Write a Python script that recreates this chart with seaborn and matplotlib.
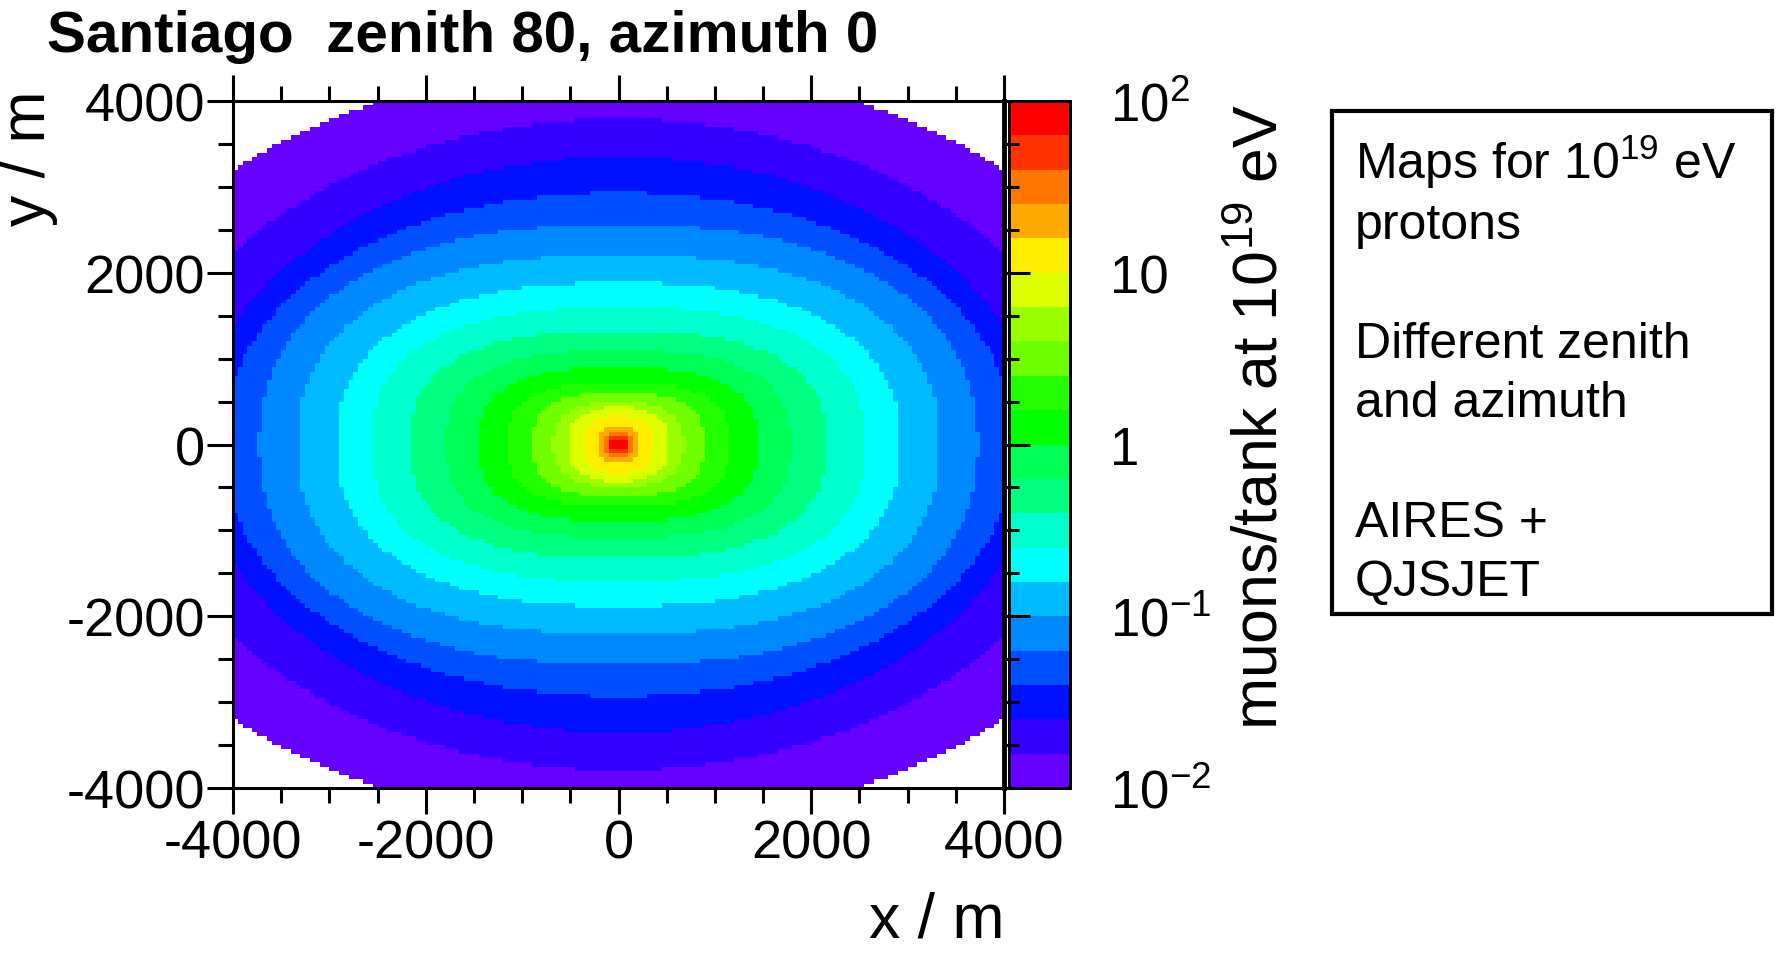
import numpy as np
import pandas as pd
import matplotlib
matplotlib.use("Agg")
import matplotlib.pyplot as plt
import seaborn as sns
from matplotlib.colors import ListedColormap, LogNorm
from matplotlib.patches import Rectangle
from matplotlib.ticker import FixedLocator, LogLocator, NullFormatter

# ---------------- data ----------------
# colour-palette contour levels (muons/tank), 5 per decade
contour_levels = [0.01, 0.0158, 0.0251, 0.0398, 0.0631, 0.1, 0.158, 0.251, 0.398, 0.631,
                  1.0, 1.58, 2.51, 3.98, 6.31, 10.0, 15.8, 25.1, 39.8, 63.1, 100.0]
band_colors = ["#6600FF", "#3300FF", "#0011FF", "#0050FF", "#0088FF",
               "#00BBFF", "#00FFFF", "#00FFCC", "#00FF80", "#00FF55",
               "#00FF00", "#22FF00", "#6FFF00", "#99FF00", "#DDFF00",
               "#FFEE00", "#FFAA00", "#FF7700", "#FF3300", "#FF0000"]
# half-width along x and half-height along y (m) of each contour
contour_half_x = [5800, 4940, 4380, 4100, 3727, 3320, 2922, 2560, 2153, 1781,
                  1445, 1150, 899, 683, 525, 370, 225, 160, 120, 80]
contour_half_y = [4420, 3792, 3350, 2930, 2565, 2207, 1883, 1597, 1320, 1090,
                  890, 720, 600, 500, 430, 330, 200, 140, 105, 70]
contour_squareness = [2.0, 2.0, 2.0, 2.1, 2.3, 2.4, 2.4, 2.5, 2.6, 2.7,
                      2.8, 2.8, 2.7, 2.5, 2.5, 2.5, 2.5, 2.5, 2.5, 2.5]
major_ticks = [-4000, -2000, 0, 2000, 4000]
major_labels = ["-4000", "-2000", "0", "2000", "4000"]
minor_ticks = [-3500, -3000, -2500, -1500, -1000, -500, 500, 1000, 1500, 2500, 3000, 3500]
cbar_ticks = [0.01, 0.1, 1, 10, 100]
cbar_labels = [r"$\mathregular{10^{-2}}$", r"$\mathregular{10^{-1}}$", "1", "10",
               r"$\mathregular{10^{2}}$"]
title = "Santiago  zenith 80, azimuth 0"
note_lines = ["Maps for $\\mathregular{10^{19}}$ eV", "protons", "",
              "Different zenith", "and azimuth", "", "AIRES +", "QJSJET"]

# ---------------- build the binned map (50 m bins) ----------------
bin_w = 50
x_centers = np.arange(-4000 + bin_w / 2, 4000, bin_w)
y_centers = np.arange(4000 - bin_w / 2, -4000, -bin_w)
X, Y = np.meshgrid(x_centers, y_centers)
band = np.full(X.shape, -1)
for k, (a, b, n) in enumerate(zip(contour_half_x, contour_half_y, contour_squareness)):
    inside = (np.abs(X) / a) ** n + (np.abs(Y) / b) ** n <= 1.0
    band[inside] = k
lv = np.array(contour_levels)
band_mid = np.sqrt(lv[:-1] * lv[1:])
values = np.where(band >= 0, band_mid[np.clip(band, 0, None)], np.nan)
df = pd.DataFrame(values, index=y_centers, columns=x_centers)

# ---------------- figure ----------------
sns.set_theme(style="white")
plt.rcParams["font.family"] = ["Liberation Sans", "DejaVu Sans"]
plt.rcParams["mathtext.default"] = "regular"
for key in ["text.color", "axes.labelcolor", "xtick.color", "ytick.color", "axes.edgecolor"]:
    plt.rcParams[key] = "black"

W, H = 1776, 954
fig = plt.figure(figsize=(W / 100, H / 100), dpi=100)
fig.patch.set_facecolor("white")

L, R, T, B = 233, 1004, 102, 789
ax = fig.add_axes([L / W, 1 - B / H, (R - L) / W, (B - T) / H])
cax = fig.add_axes([1009 / W, 1 - B / H, 61 / W, (B - T) / H])

cmap = ListedColormap(band_colors)
sns.heatmap(df, ax=ax, cmap=cmap, norm=LogNorm(vmin=0.01, vmax=100), cbar_ax=cax,
            xticklabels=False, yticklabels=False)
ax.set_zorder(3)
ax.patch.set_alpha(0)

# main axes frame & ticks
for name, sp in ax.spines.items():
    sp.set_visible(True)
    sp.set_color("black")
    sp.set_linewidth(2.2)
ax.spines["right"].set_linewidth(3.5)

def xpos(v):
    return (v + 4000) / bin_w

def ypos(v):
    return (4000 - v) / bin_w

ax.set_xticks([xpos(v) for v in major_ticks])
ax.set_xticklabels(major_labels)
ax.set_yticks([ypos(v) for v in major_ticks])
ax.set_yticklabels(major_labels)
ax.xaxis.set_minor_locator(FixedLocator([xpos(v) for v in minor_ticks]))
ax.yaxis.set_minor_locator(FixedLocator([ypos(v) for v in minor_ticks]))
ax.tick_params(which="both", direction="out", top=True, right=True, bottom=True, left=True,
               labeltop=False, labelright=False, color="black", width=2.2,
               labelcolor="black")
ax.tick_params(which="major", length=19)
ax.tick_params(which="minor", length=11)
ax.tick_params(axis="x", which="major", labelsize=39, pad=3)
ax.tick_params(axis="y", which="major", labelsize=39, pad=1)
ax.set_xlabel("")
ax.set_ylabel("")
for lab in ax.get_yticklabels():
    lab.set_rotation(0)

# colour bar
cax.set_yscale("log")
cax.set_ylim(0.01, 100)
cax.yaxis.set_major_locator(FixedLocator(cbar_ticks))
cax.set_yticklabels(cbar_labels)
cax.yaxis.set_minor_locator(LogLocator(base=10, subs=[2, 3, 4, 5, 6, 7, 8, 9]))
cax.yaxis.set_minor_formatter(NullFormatter())
cax.tick_params(which="both", direction="in", right=True, left=False, color="black", width=2.2,
                labelcolor="black")
cax.tick_params(which="major", length=28, labelsize=38, pad=29)
cax.tick_params(which="minor", length=15)
for sp in cax.spines.values():
    sp.set_visible(True)
    sp.set_color("black")
    sp.set_linewidth(2)
try:
    ax.collections[0].colorbar.outline.set_linewidth(2)
    ax.collections[0].colorbar.outline.set_edgecolor("black")
except Exception:
    pass

# texts
fig.text(47 / W, 1 - 52 / H, title, fontsize=42, fontweight="bold", ha="left", va="baseline")
fig.text(R / W, 1 - 938 / H, "x / m", fontsize=45, ha="right", va="baseline")
fig.text(28 / W, 1 - 90 / H, "y / m", fontsize=45, rotation=90, ha="center", va="top")
fig.text(1261 / W, 1 - 104 / H, "muons/tank at $\\mathregular{10^{19}}$ eV", fontsize=45,
         rotation=90, ha="center", va="top")

# note box
fig.patches.append(Rectangle((1332 / W, 1 - 615 / H), (1772 - 1332) / W, (615 - 112) / H,
                             transform=fig.transFigure, fill=False, edgecolor="black",
                             linewidth=3, zorder=5))
baselines = [179, 238.6, 298, 357.8, 417, 477, 536.6, 596]
for txt, bl in zip(note_lines, baselines):
    if txt:
        fig.text(1355 / W, 1 - bl / H, txt, fontsize=36, ha="left", va="baseline")

fig.savefig("out.png", dpi=100)
